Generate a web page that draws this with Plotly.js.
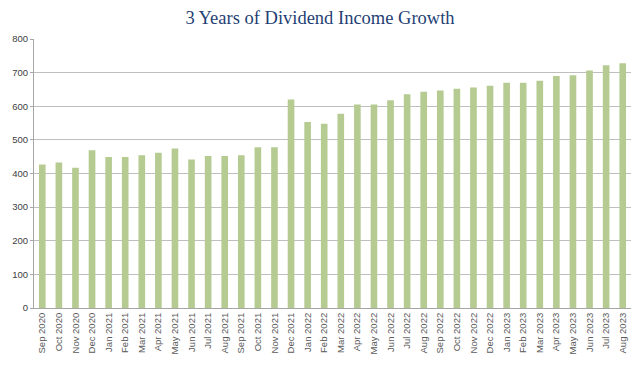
<!DOCTYPE html>
<html>
<head>
<meta charset="utf-8">
<script src="https://cdn.plot.ly/plotly-3.0.1.min.js"></script>
<style>html,body{margin:0;padding:0;background:#fff;}#chart{width:640px;height:368px;}</style>
</head>
<body>
<div id="chart"></div>
<script>
const months = ["Sep 2020","Oct 2020","Nov 2020","Dec 2020","Jan 2021","Feb 2021","Mar 2021","Apr 2021","May 2021","Jun 2021","Jul 2021","Aug 2021","Sep 2021","Oct 2021","Nov 2021","Dec 2021","Jan 2022","Feb 2022","Mar 2022","Apr 2022","May 2022","Jun 2022","Jul 2022","Aug 2022","Sep 2022","Oct 2022","Nov 2022","Dec 2022","Jan 2023","Feb 2023","Mar 2023","Apr 2023","May 2023","Jun 2023","Jul 2023","Aug 2023"];
const income = [427,433,417,469,449,449,454,462,474,442,452,452,454,478,478,620,553,548,578,605,605,618,636,643,647,652,656,661,670,670,676,690,692,706,722,728];
const yTicks = [0,100,200,300,400,500,600,700,800];

Plotly.newPlot('chart', [{
  type: 'bar',
  x: months,
  y: income,
  marker: {color: '#b5cb92'},
  hoverinfo: 'x+y'
}], {
  width: 640, height: 368,
  margin: {l: 34, r: 9, t: 39, b: 60, pad: 0},
  paper_bgcolor: '#ffffff', plot_bgcolor: '#ffffff',
  title: {text: '3 Years of Dividend Income Growth', x: 0.5, xanchor: 'center', y: 0.953, yanchor: 'middle',
          font: {family: 'Liberation Serif, DejaVu Serif, serif', size: 18.5, color: '#1f3f74'}},
  bargap: 0.6,
  showlegend: false,
  xaxis: {
    type: 'category', tickangle: -90,
    tickfont: {family: 'Liberation Sans, Arial, sans-serif', size: 9.5, color: '#595959'},
    showline: true, linecolor: '#a6a6a6', linewidth: 1,
    ticks: '', showgrid: false, automargin: false
  },
  yaxis: {
    range: [0, 800], tickvals: yTicks, ticktext: yTicks.map(String),
    tickfont: {family: 'Liberation Sans, Arial, sans-serif', size: 9.5, color: '#404040'},
    showline: true, linecolor: '#a6a6a6', linewidth: 1,
    gridcolor: '#bfbfbf', gridwidth: 1, zeroline: false,
    ticks: 'outside', ticklen: 3, tickcolor: '#a6a6a6', automargin: false
  }
}, {displayModeBar: false, staticPlot: true});
</script>
</body>
</html>
